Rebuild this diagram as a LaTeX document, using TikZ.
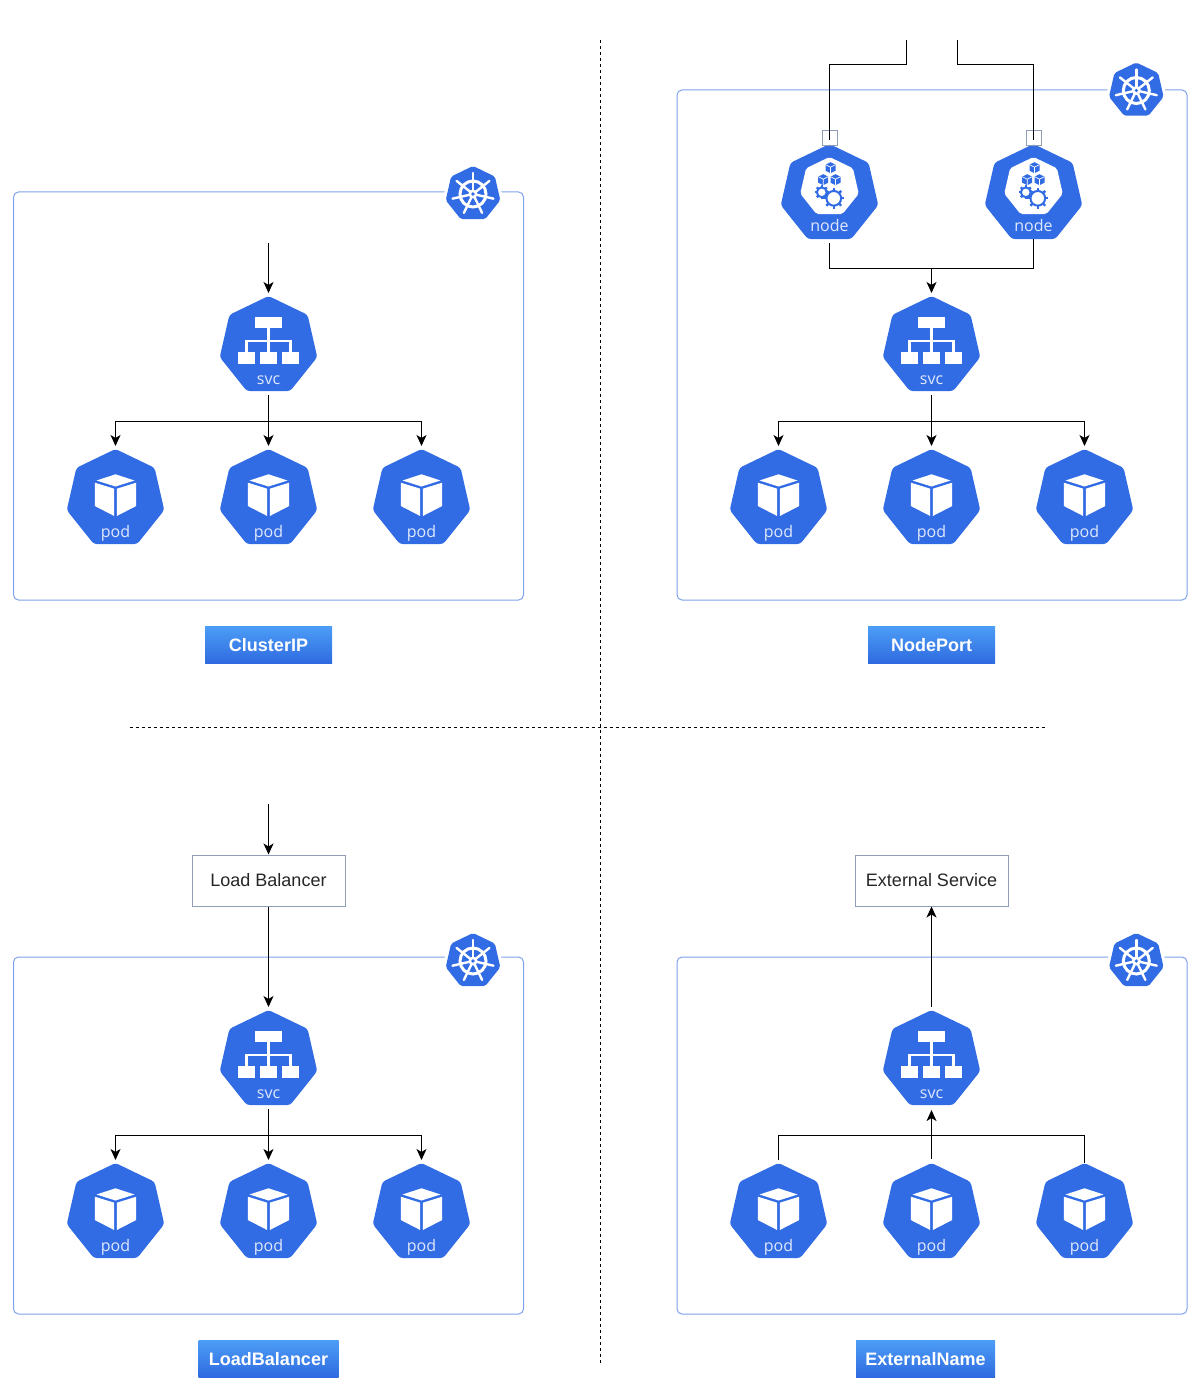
\documentclass[tikz,border=0pt]{standalone}
\usepackage{fontspec}
\setmainfont{Liberation Sans}
\newfontfamily\iconfont{Open Sans}
\usetikzlibrary{shapes.geometric,arrows.meta}
\definecolor{kubeblue}{HTML}{326CE5}
\definecolor{frameblue}{HTML}{7FA2EC}
\definecolor{titletop}{HTML}{4C9DF6}
\definecolor{titlebot}{HTML}{2F6AE0}
\definecolor{portgray}{HTML}{8F9DB5}
\tikzset{
	hept/.style={regular polygon,regular polygon sides=7,fill=kubeblue,inner sep=0,outer sep=0,minimum size=50pt,rounded corners=1.5pt},
	heptlabel/.style={font=\iconfont\fontsize{8}{9}\selectfont,text=white!85!kubeblue,inner sep=0,text height=5pt,text depth=0pt},
	wheelhept/.style={hept,minimum size=28pt,rounded corners=1pt,preaction={draw=white,line width=3pt}},
	frame/.style={draw=frameblue,line width=.5pt,rounded corners=2.5pt},
	wire/.style={draw=black,line width=.5pt,shorten >=1.5pt},
	gap/.style={shorten <=2pt},
	divider/.style={draw=black,line width=.5pt,dash pattern=on 1.5pt off 1.5pt},
	titlebox/.style={top color=titletop,bottom color=titlebot,text=white,font=\bfseries\fontsize{9}{11}\selectfont,minimum height=18.5pt,inner sep=0},
	textbox/.style={draw=portgray,line width=.5pt,minimum width=76.5pt,minimum height=25.5pt,font=\fontsize{9}{11}\selectfont,text=black!85,inner sep=0,text height=6pt,text depth=0pt},
	portbox/.style={draw=portgray,line width=.5pt,minimum size=7.5pt,inner sep=0},
	podglyph/.pic={
		\fill[white] (0,-24.7) -- (19,-18.5) -- (0,-12.5) -- (-19,-18.5) -- cycle;
		\fill[white] (-20.7,-16.3) -- (-1.3,-10.3) -- (-1.3,17) -- (-20.7,7) -- cycle;
		\fill[white] (20.7,-16.3) -- (1.3,-10.3) -- (1.3,17) -- (20.7,7) -- cycle;
	},
	svcglyph/.pic={
		\fill[white] (-13.3,-28.7) rectangle (13.3,-17.7);
		\draw[white,line width=1.2pt] (0,-17.7) -- (0,6.3);
		\draw[white,line width=1.2pt] (-22,6.3) -- (-22,-5.3) -- (22,-5.3) -- (22,6.3);
		\foreach \x in {-22,0,22}
			\fill[white] ({\x-8.3},6.3) rectangle ({\x+8.3},18);
	},
	wheelglyph/.pic={
		\draw[white,line width=1.5pt] (0,0) circle (13);
		\foreach \a in {0,1,...,6}
			\draw[white,line width=1.2pt,line cap=round] (0,0) -- ({-90+\a*360/7}:21);
		\fill[white] (0,0) circle (4.5);
		\fill[kubeblue] (0,0) circle (1.8);
	},
	tinycube/.pic={
		\fill[kubeblue] (0,-5.5) -- (5,-3) -- (5,3) -- (0,5.5) -- (-5,3) -- (-5,-3) -- cycle;
		\draw[white,line width=.35pt] (-5,-3) -- (0,-.5) -- (5,-3) (0,-.5) -- (0,5.5);
	},
	cogwheel/.pic={
		\draw[kubeblue,line width=1pt] (0,0) circle (#1*.7);
		\foreach \a in {0,45,...,315}
			\draw[kubeblue,line width=1.2pt] (\a:#1*.75) -- (\a:#1);
	},
	nodeglyph/.pic={
		\node[regular polygon,regular polygon sides=7,fill=white,inner sep=0,minimum size=30pt,rounded corners=1pt] at (0,-7) {};
		\pic at (1,-26.3) {tinycube};
		\pic at (-6.3,-14.3) {tinycube};
		\pic at (6,-14.3) {tinycube};
		\pic at (-7.7,-1.7) {cogwheel=7};
		\pic at (4.3,4.3) {cogwheel=10.5};
	}
}
\begin{document}
\begin{tikzpicture}[x=.5pt,y=-.5pt,>={Stealth[length=5.5pt,width=5pt,inset=1.5pt]}]
	\useasboundingbox (0,0) rectangle (1200,1391);
	\draw[divider] (600.5,40) -- (600.5,1365);
	\draw[divider] (130,727.5) -- (1045,727.5);

	\draw[frame] (13.5,192) rectangle (523.5,600);
	\draw[frame] (677,90) rectangle (1187,600);
	\draw[frame] (13.5,957) rectangle (523.5,1314);
	\draw[frame] (677,957) rectangle (1187,1314);

	\foreach \p/\cx/\wx/\wy/\sy/\py in {a/268.5/473/194/346/499,b/931.5/1136.3/90.5/346/499,c/268.5/473/961/1060/1213,d/931.5/1136.3/961/1060/1213}{
		\node[wheelhept] (wheel\p) at (\wx,\wy) {};
		\pic at (wheel\p) {wheelglyph};
		\node[hept,label={[heptlabel,yshift=-16.5pt]center:svc}] (svc\p) at (\cx,\sy) {};
		\pic at (svc\p) {svcglyph};
		\foreach \n/\d in {1/-153,2/0,3/153}{
			\node[hept,label={[heptlabel,yshift=-16.5pt]center:pod}] (pod\p\n) at ({\cx+\d},\py) {};
			\pic at (pod\p\n) {podglyph};
		}
	}

	\node[titlebox,minimum width=63.5pt] (titlea) at (268.5,644.75) {ClusterIP};
	\node[titlebox,minimum width=63.5pt] (titleb) at (931.5,644.75) {NodePort};
	\node[titlebox,minimum width=70pt] (titlec) at (268.5,1358.75) {LoadBalancer};
	\node[titlebox,minimum width=69.5pt] (titled) at (925.5,1358.75) {ExternalName};

	\node[textbox] (lb) at (268.5,880.5) {Load Balancer};
	\node[textbox] (ext) at (931.5,880.5) {External Service};

	% ClusterIP
	\coordinate (ina) at (268.5,243);
	\coordinate (busa) at (268.5,421.5);
	\draw[wire,->] (ina) -- (svca.north);
	\draw[wire,->,gap] (svca.south) -- (poda2.north);
	\draw[wire,->] (busa) -| (poda1.north);
	\draw[wire,->] (busa) -| (poda3.north);

	% NodePort
	\foreach \n/\x in {1/829.5,2/1033.5}{
		\node[hept,label={[heptlabel,yshift=-16.25pt]center:node}] (node\n) at (\x,194) {};
		\pic at (node\n) {nodeglyph};
		\node[portbox] (port\n) at (\x,138.2) {};
	}
	\coordinate (extl) at (906.5,40);
	\coordinate (extr) at (957.5,40);
	\coordinate (cornl) at (906.5,65);
	\coordinate (cornr) at (957.5,65);
	\coordinate (joinb) at (931.5,268.5);
	\coordinate (busb) at (931.5,421.5);
	\draw[line width=.5pt] (extl) -- (cornl) -| ([yshift=-1pt]port1.center);
	\draw[line width=.5pt] (extr) -- (cornr) -| ([yshift=-1pt]port2.center);
	\draw[line width=.5pt,gap] (node1.south) |- (joinb) -| (node2.south);
	\draw[wire,->] (joinb) -- (svcb.north);
	\draw[wire,->,gap] (svcb.south) -- (podb2.north);
	\draw[wire,->] (busb) -| (podb1.north);
	\draw[wire,->] (busb) -| (podb3.north);

	% LoadBalancer
	\coordinate (inc) at (268.5,804);
	\coordinate (busc) at (268.5,1135.5);
	\draw[line width=.5pt,->] (inc) -- (lb.north);
	\draw[wire,->] (lb.south) -- (svcc.north);
	\draw[wire,->,gap] (svcc.south) -- (podc2.north);
	\draw[wire,->] (busc) -| (podc1.north);
	\draw[wire,->] (busc) -| (podc3.north);

	% ExternalName
	\coordinate (busd) at (931.5,1135.5);
	\draw[line width=.5pt,->,shorten <=1.5pt] (svcd.north) -- (ext.south);
	\draw[line width=.5pt,shorten <=1.5pt] (podd1.north) |- (busd) -| (podd3.north);
	\draw[line width=.5pt,->,shorten <=2pt,shorten >=2.5pt] (podd2.north) -- (svcd.south);
\end{tikzpicture}
\end{document}
